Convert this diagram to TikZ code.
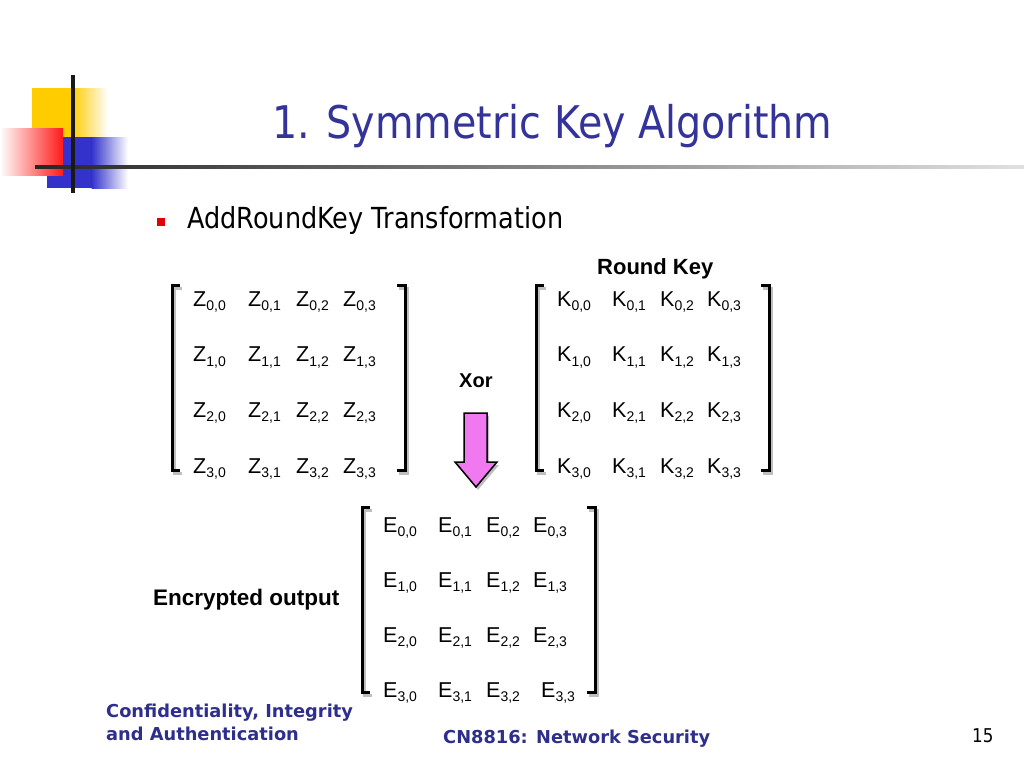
\documentclass[tikz,border=0pt]{standalone}
\usepackage{fontspec}
\setmainfont{Liberation Sans}
\newfontfamily\slidefont[FakeStretch=0.88]{DejaVu Sans}
\newfontfamily\footfont{DejaVu Sans}
\usetikzlibrary{positioning}

\definecolor{slideblue}{RGB}{51,51,153}
\definecolor{footblue}{RGB}{46,46,140}
\definecolor{logoyellow}{RGB}{255,204,0}
\definecolor{logoblue}{RGB}{51,51,204}
\definecolor{logored}{RGB}{255,25,25}
\definecolor{arrowpink}{RGB}{240,120,240}

% one matrix entry: letter with a lowered index pair
\newcommand\ent[3]{#1\raisebox{-0.4ex}{\fontsize{14}{15}\selectfont #2,#3}}
% square brackets round a matrix: left x, right x, top y, bottom y
\newcommand\matbrackets[4]{%
  \foreach \sx/\sy/\col in {2/3/black!25, 0/0/black}{
    \draw[brk, draw=\col, shift={(\sx,\sy)}] (#1+8,#3) -- (#1,#3) -- (#1,#4) -- (#1+8,#4);
    \draw[brk, draw=\col, shift={(\sx,\sy)}] (#2-8,#3) -- (#2,#3) -- (#2,#4) -- (#2-8,#4);
  }}

\begin{document}
\begin{tikzpicture}[x=1pt, y=-1pt,
  entry/.style={anchor=base west, inner sep=0pt, font=\fontsize{21.5}{23}\selectfont},
  lbl/.style={anchor=base west, inner sep=0pt, font=\bfseries\fontsize{#1}{24}\selectfont},
  foot/.style={anchor=base west, inner sep=0pt, text=footblue,
    font=\footfont\bfseries\fontsize{17.8}{22}\selectfont},
  brk/.style={line width=3pt, line cap=butt, line join=miter}]
  \useasboundingbox[fill=white] (0,0) rectangle (1024,768);

  % logo in the corner
  \fill[logoyellow] (32,88) rectangle (72,137);
  \shade[left color=logoyellow, right color=white] (71.5,88) rectangle (108,137);
  \fill[logoblue] (47,137) rectangle (92,188);
  \shade[left color=logoblue, right color=white] (91.5,137) rectangle (128,188);
  \shade[left color=white, right color=logored] (0,128) rectangle (63,175);
  \shade[left color=black!85, right color=black!12] (35,165.5) rectangle (1024,168.5);
  \draw[line width=3.5pt, black!90] (73,75) -- (73,193);

  % title and bullet
  \node[anchor=base west, inner sep=0pt, text=slideblue,
    font=\slidefont\fontsize{45}{50}\selectfont] (title) at (272,138) {1. Symmetric Key Algorithm};
  \fill[red!90!black] (157,218) rectangle (165,226);
  \node[anchor=base west, inner sep=0pt, font=\slidefont\fontsize{29}{32}\selectfont]
    (bullet) at (187,228) {AddRoundKey Transformation};

  % the three matrices
  \foreach \r in {0,...,3}
    \foreach \c/\dx in {0/0,1/55,2/103,3/150}{
      \node[entry] (z\r\c) at (193+\dx, 306+55.7*\r) {\ent{Z}{\r}{\c}};
      \node[entry] (k\r\c) at (557+\dx, 306+55.7*\r) {\ent{K}{\r}{\c}};
      \pgfmathsetmacro\ex{(\r==3 && \c==3) ? 8 : 0}
      \node[entry] (e\r\c) at (383+\dx+\ex, 532+55*\r) {\ent{E}{\r}{\c}};
    }
  \matbrackets{172}{405}{285}{470}
  \matbrackets{536}{769}{285}{470}
  \matbrackets{362}{595}{507}{692}

  % labels
  \node[lbl=22] (roundkey) at (597,274) {Round Key};
  \node[lbl=20] (xor) at (459,387) {Xor};
  \node[lbl=22.5] (encout) at (153,605) {Encrypted output};

  % xor arrow
  \fill[black!25, shift={(2,3)}] (464,413) -- (487,413) -- (487,462) -- (497,462)
    -- (476,487) -- (455,462) -- (464,462) -- cycle;
  \draw[fill=arrowpink, line width=1.5pt, line join=miter] (464,413) -- (487,413)
    -- (487,462) -- (497,462) -- (476,487) -- (455,462) -- (464,462) -- cycle;

  % footer
  \node[foot] (foot1) at (106,717) {Confidentiality, Integrity};
  \node[foot] (foot2) at (106,740) {and Authentication};
  \node[foot] (course) at (443,743) {CN8816: Network Security};
  \node[anchor=base west, inner sep=0pt, font=\slidefont\fontsize{19}{22}\selectfont]
    (page) at (972,742) {15};
\end{tikzpicture}
\end{document}
